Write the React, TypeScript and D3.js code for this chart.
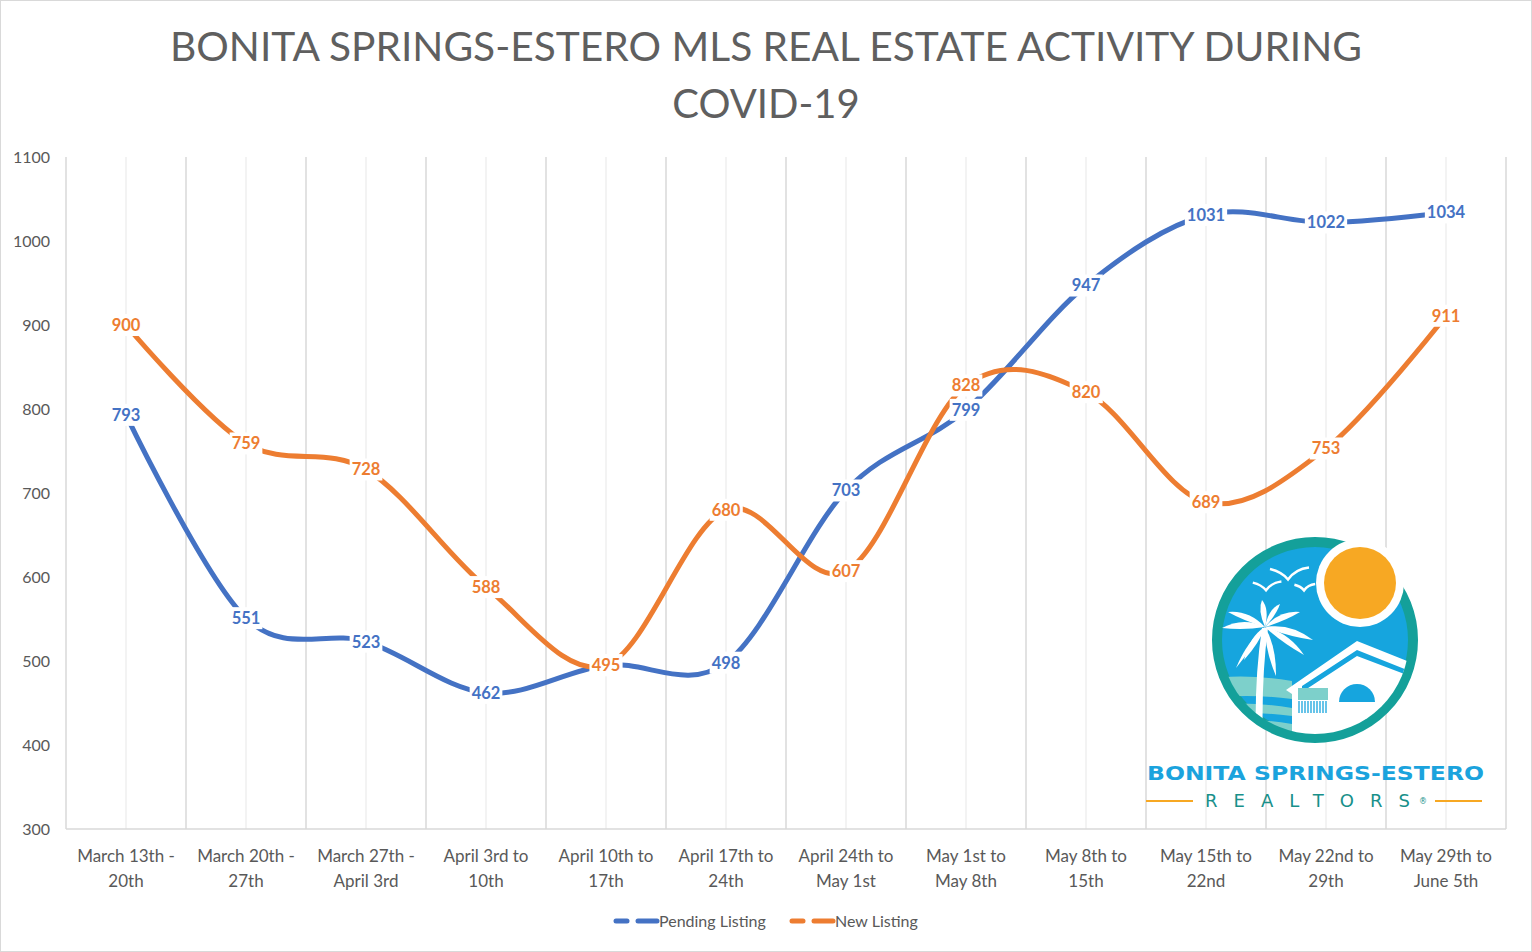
import React, { useEffect, useRef } from "react";
import * as d3 from "d3";

// weekly periods (two-line tick labels)
const periods: string[][] = [
  ["March 13th -", "20th"],
  ["March 20th -", "27th"],
  ["March 27th -", "April 3rd"],
  ["April 3rd to", "10th"],
  ["April 10th to", "17th"],
  ["April 17th to", "24th"],
  ["April 24th to", "May 1st"],
  ["May 1st to", "May 8th"],
  ["May 8th to", "15th"],
  ["May 15th to", "22nd"],
  ["May 22nd to", "29th"],
  ["May 29th to", "June 5th"],
];

const pendingListing = [793, 551, 523, 462, 495, 498, 703, 799, 947, 1031, 1022, 1034];
const newListing = [900, 759, 728, 588, 495, 680, 607, 828, 820, 689, 753, 911];

const yTicks = [300, 400, 500, 600, 700, 800, 900, 1000, 1100];

const seriesList = [
  { name: "Pending Listing", values: pendingListing, color: "#4472C4" },
  { name: "New Listing", values: newListing, color: "#ED7D31" },
];

const W = 1532;
const H = 952;
const FONT = "Lato, 'Open Sans', sans-serif";

const App: React.FC = () => {
  const svgRef = useRef<SVGSVGElement>(null);

  useEffect(() => {
    if (!svgRef.current) return;
    const svg = d3.select(svgRef.current);
    svg.selectAll("*").remove();

    const margin = { top: 157, right: 26, bottom: 123, left: 66 };
    const innerW = W - margin.left - margin.right;
    const innerH = H - margin.top - margin.bottom;

    const cats = periods.map(p => p.join(" "));
    const x = d3.scaleBand<string>().domain(cats).range([0, innerW]).padding(0);
    const cx = (i: number) => x(cats[i])! + x.bandwidth() / 2;
    const y = d3.scaleLinear().domain([300, 1100]).range([innerH, 0]);

    // background + outer border
    svg.append("rect")
      .attr("x", 0.5).attr("y", 0.5)
      .attr("width", W - 1).attr("height", H - 1)
      .attr("fill", "#fff").attr("stroke", "#d9d9d9");

    // title
    const title = svg.append("text")
      .attr("x", 766)
      .attr("text-anchor", "middle")
      .attr("fill", "#5f5f5f")
      .style("font-family", FONT)
      .style("font-size", "40px");
    title.append("tspan").attr("x", 766).attr("y", 61)
      .attr("textLength", 1192).attr("lengthAdjust", "spacingAndGlyphs")
      .text("BONITA SPRINGS-ESTERO MLS REAL ESTATE ACTIVITY DURING");
    title.append("tspan").attr("x", 766).attr("y", 118).text("COVID-19");

    const g = svg.append("g").attr("transform", `translate(${margin.left},${margin.top})`);

    // minor vertical lines at category centres
    g.append("g")
      .selectAll("line")
      .data(cats)
      .join("line")
      .attr("x1", (_, i) => cx(i)).attr("x2", (_, i) => cx(i))
      .attr("y1", 0).attr("y2", innerH)
      .attr("stroke", "#efefef").attr("stroke-width", 1.5);

    // major vertical lines at category boundaries
    const bounds = [...cats.map(c => x(c)!), innerW];
    g.append("g")
      .selectAll("line")
      .data(bounds)
      .join("line")
      .attr("x1", d => d).attr("x2", d => d)
      .attr("y1", 0).attr("y2", innerH)
      .attr("stroke", "#d9d9d9").attr("stroke-width", 1.5);

    // x axis line
    g.append("line")
      .attr("x1", 0).attr("x2", innerW)
      .attr("y1", innerH).attr("y2", innerH)
      .attr("stroke", "#d9d9d9").attr("stroke-width", 1.5);

    // y tick labels
    g.append("g")
      .selectAll("text")
      .data(yTicks)
      .join("text")
      .attr("x", -16)
      .attr("y", d => y(d))
      .attr("dy", "0.35em")
      .attr("text-anchor", "end")
      .attr("fill", "#595959")
      .style("font-family", FONT)
      .style("font-size", "16px")
      .text(d => d);

    // x tick labels
    const xl = g.append("g")
      .selectAll("text")
      .data(periods)
      .join("text")
      .attr("text-anchor", "middle")
      .attr("fill", "#595959")
      .style("font-family", FONT)
      .style("font-size", "17px");
    xl.each(function (p, i) {
      const t = d3.select(this);
      p.forEach((line, k) => {
        t.append("tspan").attr("x", cx(i)).attr("y", innerH + 33 + k * 25).text(line);
      });
    });

    // smoothed lines (Excel-style smoothing)
    const line = d3.line<number>()
      .x((_, i) => cx(i))
      .y(d => y(d))
      .curve(d3.curveCardinal.tension(0));

    seriesList.forEach(s => {
      g.append("path")
        .datum(s.values)
        .attr("fill", "none")
        .attr("stroke", s.color)
        .attr("stroke-width", 5)
        .attr("stroke-linejoin", "round")
        .attr("d", line);
    });

    // data labels with white boxes, centred on points
    seriesList.forEach(s => {
      const lg = g.append("g");
      s.values.forEach((v, i) => {
        const grp = lg.append("g").attr("transform", `translate(${cx(i)},${y(v)})`);
        const rect = grp.append("rect").attr("fill", "#fff");
        const txt = grp.append("text")
          .attr("text-anchor", "middle")
          .attr("dy", "0.36em")
          .attr("fill", s.color)
          .style("font-family", FONT)
          .style("font-size", "16.5px")
          .style("font-weight", "bold")
          .text(v);
        const bb = (txt.node() as SVGTextElement).getBBox();
        rect.attr("x", bb.x - 2).attr("y", -11).attr("width", bb.width + 4).attr("height", 22);
      });
    });

    // legend
    const legend = svg.append("g").attr("transform", "translate(0,921)");
    const legendItems = [
      { s: seriesList[0], x0: 614 },
      { s: seriesList[1], x0: 790 },
    ];
    legendItems.forEach(({ s, x0 }) => {
      legend.append("line")
        .attr("x1", x0 + 2).attr("x2", x0 + 13).attr("y1", 0).attr("y2", 0)
        .attr("stroke", s.color).attr("stroke-width", 5).attr("stroke-linecap", "round");
      legend.append("line")
        .attr("x1", x0 + 24).attr("x2", x0 + 43).attr("y1", 0).attr("y2", 0)
        .attr("stroke", s.color).attr("stroke-width", 5).attr("stroke-linecap", "round");
      legend.append("text")
        .attr("x", x0 + 45).attr("y", 0).attr("dy", "0.35em")
        .attr("fill", "#595959")
        .style("font-family", FONT)
        .style("font-size", "16px")
        .text(s.name);
    });

    // logo
    const logo = svg.append("g");
    const lcx = 1315, lcy = 640, R = 103;
    logo.append("defs").append("clipPath").attr("id", "logoClip")
      .append("circle").attr("cx", lcx).attr("cy", lcy).attr("r", R - 9);
    logo.append("circle").attr("cx", lcx).attr("cy", lcy).attr("r", R - 5)
      .attr("fill", "#16A5DE").attr("stroke", "#14A09A").attr("stroke-width", 10);
    const inner = logo.append("g").attr("clip-path", "url(#logoClip)");
    // waves
    [[679, 20], [706, 10], [722, 40]].forEach(([yy, hh]) => {
      inner.append("path")
        .attr("d", `M1205,${yy} Q1245,${yy - 6} 1292,${yy + 2} L1292,${yy + hh} Q1245,${yy + hh - 6} 1205,${yy + hh} Z`)
        .attr("fill", "#7DD0CB");
    });
    // house body
    inner.append("path")
      .attr("d", "M1286,690 L1357,641 L1420,666 L1420,760 L1292,760 L1292,694 Z")
      .attr("fill", "#fff");
    inner.append("path")
      .attr("d", "M1302,686 L1357,650 L1412,672 L1412,677 L1357,656 L1302,692 Z")
      .attr("fill", "#16A5DE");
    inner.append("path")
      .attr("d", "M1339,702 A18,18 0 0 1 1375,702 Z")
      .attr("fill", "#16A5DE");
    inner.append("rect").attr("x", 1298).attr("y", 688).attr("width", 30).attr("height", 12).attr("fill", "#7DD0CB");
    d3.range(1299, 1328, 3).forEach(xx => {
      inner.append("line").attr("x1", xx).attr("x2", xx).attr("y1", 701).attr("y2", 713)
        .attr("stroke", "#16A5DE").attr("stroke-width", 1.3);
    });
    // palm trunk
    inner.append("path")
      .attr("d", "M1262,628 Q1254,680 1256,745 L1263,745 Q1261,680 1268,628 Z")
      .attr("fill", "#fff");
    // fronds as leaves from the crown
    const crown: [number, number] = [1265, 627];
    const tips: [number, number, number][] = [
      [1222, 628, 7], [1228, 612, 6], [1244, 660, 6], [1236, 668, 4],
      [1262, 600, 6], [1280, 604, 5], [1300, 612, 6], [1313, 640, 7],
      [1304, 655, 6], [1276, 676, 6],
    ];
    tips.forEach(([tx, ty, w]) => {
      const mx = (crown[0] + tx) / 2, my = (crown[1] + ty) / 2;
      const dx = tx - crown[0], dy = ty - crown[1];
      const len = Math.hypot(dx, dy);
      const nx = -dy / len * w, ny = dx / len * w;
      inner.append("path")
        .attr("d", `M${crown[0]},${crown[1]} Q${mx + nx},${my + ny - 4} ${tx},${ty} Q${mx - nx},${my - ny - 4} ${crown[0]},${crown[1]} Z`)
        .attr("fill", "#fff");
    });
    // birds
    [[1288, 575, 1.5], [1266, 587, 1.1], [1304, 588, 0.8]].forEach(([bx, by, s]) => {
      inner.append("path")
        .attr("d", `M${bx - 12 * s},${by - 4 * s} Q${bx - 4 * s},${by - 2 * s} ${bx},${by + 3 * s} Q${bx + 5 * s},${by - 4 * s} ${bx + 14 * s},${by - 5 * s}`)
        .attr("fill", "none").attr("stroke", "#fff").attr("stroke-width", 2.5);
    });
    // sun
    logo.append("circle").attr("cx", 1360).attr("cy", 583).attr("r", 44).attr("fill", "#fff");
    logo.append("circle").attr("cx", 1360).attr("cy", 583).attr("r", 36).attr("fill", "#F7A823");

    logo.append("text")
      .attr("x", 1147).attr("y", 780)
      .attr("textLength", 337).attr("lengthAdjust", "spacingAndGlyphs")
      .attr("fill", "#1BA3DD")
      .style("font-family", "'DejaVu Sans', sans-serif")
      .style("font-size", "20px")
      .style("font-weight", "bold")
      .text("BONITA SPRINGS-ESTERO");
    logo.append("text")
      .attr("x", 1205).attr("y", 807)
      .attr("textLength", 205).attr("lengthAdjust", "spacing")
      .attr("fill", "#18908A")
      .style("font-family", "'DejaVu Sans', sans-serif")
      .style("font-size", "18px")
      .text("REALTORS");
    logo.append("text")
      .attr("x", 1419).attr("y", 804)
      .attr("fill", "#18908A")
      .style("font-family", "'DejaVu Sans', sans-serif")
      .style("font-size", "8px")
      .text("®");
    [[1146, 1193], [1435, 1482]].forEach(([a, b]) => {
      logo.append("line").attr("x1", a).attr("x2", b).attr("y1", 801).attr("y2", 801)
        .attr("stroke", "#F7A823").attr("stroke-width", 2);
    });
  }, []);

  return (
    <svg
      ref={svgRef}
      width={W}
      height={H}
      style={{ position: "absolute", left: 0, top: 0 }}
    />
  );
};

export default App;
